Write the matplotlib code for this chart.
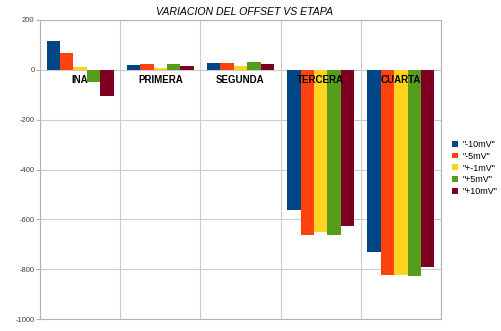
import matplotlib
matplotlib.use("Agg")
import matplotlib.pyplot as plt
import numpy as np

plt.rcParams['font.family'] = ['Liberation Sans', 'DejaVu Sans']

etapas = ["INA", "PRIMERA", "SEGUNDA", "TERCERA", "CUARTA"]
series = ['"-10mV"', '"-5mV"', '"+-1mV"', '"+5mV"', '"+10mV"']
m10 = [115, 19, 27, -561, -731]
m5 = [67, 23, 29, -661, -823]
pm1 = [12, 9, 16, -649, -822]
p5 = [-49, 23, 32, -661, -826]
p10 = [-106, 17, 23, -627, -792]
valores = [m10, m5, pm1, p5, p10]
colores = ["#004586", "#ff420e", "#ffd320", "#579d1c", "#7e0021"]
yticks = [200, 0, -200, -400, -600, -800, -1000]

fig = plt.figure(figsize=(5.01, 3.31), dpi=100)
ax = fig.add_axes([40 / 501, 1 - 319 / 331, 401 / 501, 299 / 331])

x = np.arange(len(etapas))
w = 1 / 6
for i, (nombre, vals) in enumerate(zip(series, valores)):
    ax.bar(x - 2 * w + i * w, vals, width=w, color=colores[i], label=nombre, zorder=3)

ax.set_xlim(-0.5, len(etapas) - 0.5)
ax.set_ylim(-1000, 200)
ax.set_yticks(yticks)
ax.set_yticklabels([str(v) for v in yticks], fontsize=5.5, color="#444444")
ax.tick_params(axis="y", length=3, color="#b3b3b3", pad=1)
ax.set_xticks([])
for b in np.arange(len(etapas) + 1) - 0.5:
    ax.axvline(b, color="#cccccc", lw=0.8, zorder=1)
ax.grid(axis="y", color="#cccccc", lw=0.8, zorder=1)
for s in ax.spines.values():
    s.set_color("#b3b3b3")
    s.set_linewidth(0.8)

for xi, nombre in zip(x, etapas):
    ax.text(xi, -40, nombre, ha="center", va="center", fontsize=7, fontweight="bold", zorder=4)

fig.text(244 / 501, 1 - 12 / 331, "VARIACION DEL OFFSET VS ETAPA", ha="center", va="center",
         fontsize=7.6, style="italic")

ax.legend(loc="center left", bbox_to_anchor=(1.012, 0.505), frameon=False, fontsize=6.5,
          handlelength=0.6, handleheight=0.6, handletextpad=0.6, labelspacing=0.3,
          borderaxespad=0.3)

fig.savefig("out.png", dpi=100)
